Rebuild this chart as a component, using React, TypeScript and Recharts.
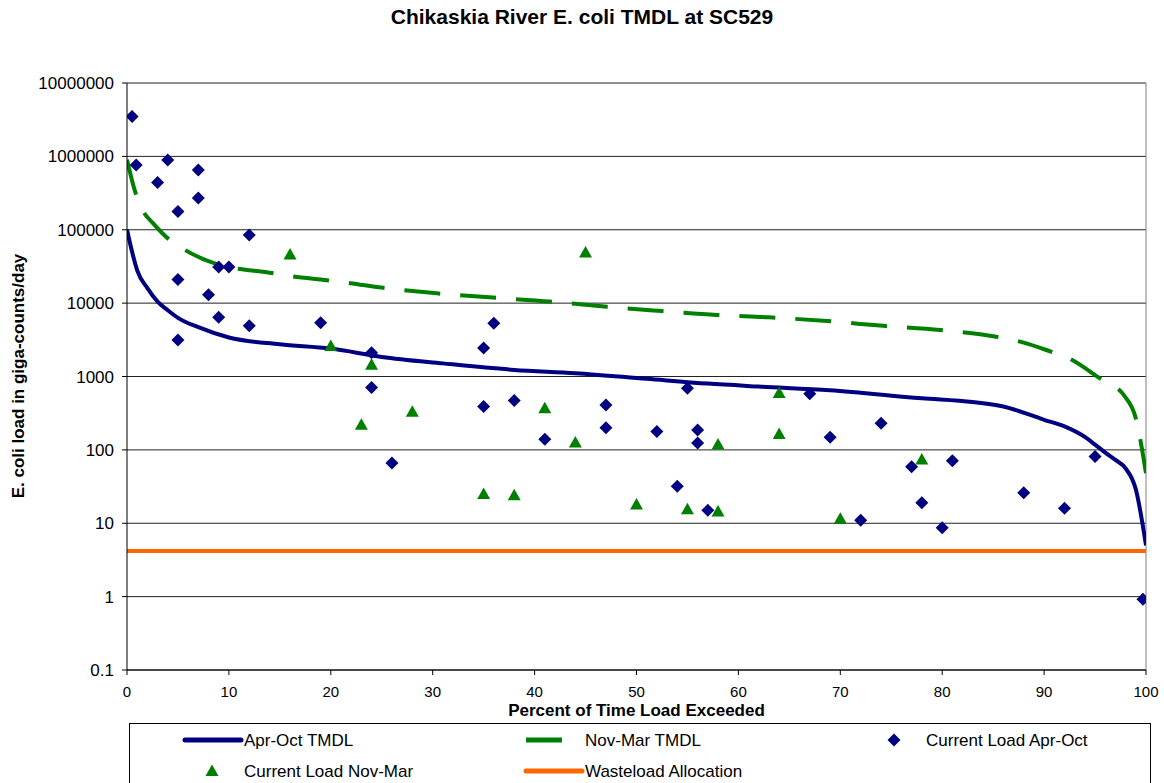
import {
  CartesianGrid,
  ComposedChart,
  Label,
  Legend,
  Line,
  ReferenceLine,
  Scatter,
  XAxis,
  YAxis,
} from "recharts"

// Apr-Oct TMDL curve (percent exceeded, load)
const tmdlAprOctPct = [0, 0.5, 1, 2, 3, 4, 5, 7, 10, 15, 20, 25, 31, 38, 44, 51, 57, 62, 69, 78, 83, 86, 90, 92, 94, 95, 96, 97, 98, 99, 100]
const tmdlAprOctLoad = [100000, 50000, 28000, 16000, 10500, 8000, 6300, 4700, 3400, 2750, 2400, 1850, 1510, 1230, 1110, 930, 800, 730, 650, 506, 450, 390, 257, 209, 150, 118, 92, 73, 56, 29, 5]

// Nov-Mar TMDL curve
const tmdlNovMarPct = [0, 0.8, 1.6, 2.5, 3.8, 5.7, 8.8, 14, 16.3, 19.6, 21.9, 25, 30.4, 35.9, 41.5, 47.1, 52.5, 57.9, 63, 68.7, 74.2, 79.8, 85.2, 88, 90.6, 92.4, 95.3, 97.9, 99, 100]
const tmdlNovMarLoad = [900000, 330000, 178000, 125000, 81000, 53000, 34000, 26000, 23000, 20500, 18700, 16300, 13600, 11900, 10500, 8900, 7800, 6900, 6400, 5700, 4900, 4300, 3500, 2900, 2200, 1780, 980, 540, 270, 48]

// Current load samples, Apr-Oct
const currentAprOctPct = [0.5, 0.9, 4, 3, 7, 7, 5, 12, 9, 10, 5, 8, 9, 12, 5, 19, 24, 24, 26, 36, 35, 35, 38, 41, 47, 47, 52, 55, 56, 56, 54, 57, 67, 69, 74, 77, 81, 78, 72, 80, 88, 92, 95, 99.7]
const currentAprOctLoad = [3500000, 760000, 890000, 440000, 650000, 270000, 178000, 85000, 31000, 31000, 21000, 13000, 6400, 4900, 3150, 5400, 2100, 710, 66, 5300, 2450, 390, 470, 140, 410, 200, 178, 690, 187, 124, 32, 15, 580, 149, 230, 59, 71, 19, 11, 8.7, 26, 16, 81, 0.92]

// Current load samples, Nov-Mar
const currentNovMarPct = [16, 20, 24, 23, 45, 28, 41, 44, 35, 38, 50, 55, 58, 58, 64, 64, 78, 70]
const currentNovMarLoad = [46000, 2600, 1450, 220, 49000, 330, 370, 126, 25, 24, 18, 15.5, 14.5, 118, 595, 165, 74, 11.5]

// Wasteload allocation
const wastePct = [0, 100]
const wasteLoad = [4.2, 4.2]

const pctTicks = [0, 10, 20, 30, 40, 50, 60, 70, 80, 90, 100]
const loadTicks = [0.1, 1, 10, 100, 1000, 10000, 100000, 1000000, 10000000]

const pairs = (xs: number[], ys: number[]) => xs.map((x, i) => ({ x, y: ys[i] }))

const aprOctTmdl = pairs(tmdlAprOctPct, tmdlAprOctLoad)
const novMarTmdl = pairs(tmdlNovMarPct, tmdlNovMarLoad)
const aprOctCurrent = pairs(currentAprOctPct, currentAprOctLoad)
const novMarCurrent = pairs(currentNovMarPct, currentNovMarLoad)
const wasteload = pairs(wastePct, wasteLoad)

const NAVY = "#000080"
const GREEN = "#008000"
const ORANGE = "#FF6600"
const FONT = "'Liberation Sans', Arial, sans-serif"

function Diamond(props: any) {
  const { cx, cy } = props
  if (cx == null || cy == null) return null
  const r = 6.5
  return <polygon points={`${cx},${cy - r} ${cx + r},${cy} ${cx},${cy + r} ${cx - r},${cy}`} fill={NAVY} />
}

function Triangle(props: any) {
  const { cx, cy } = props
  if (cx == null || cy == null) return null
  return <polygon points={`${cx},${cy - 6.5} ${cx + 6.5},${cy + 5} ${cx - 6.5},${cy + 5}`} fill={GREEN} />
}

function LegendBox() {
  const t = { fontFamily: FONT, fontSize: 17, fill: "#000", dominantBaseline: "central" as const }
  const r1 = 16
  const r2 = 47
  return (
    <svg width={1022} height={62} style={{ display: "block" }}>
      <line x1={55} y1={r1} x2={111} y2={r1} stroke={NAVY} strokeWidth={5} strokeLinecap="round" />
      <text x={114} y={r1} {...t}>Apr-Oct TMDL</text>
      <line x1={396} y1={r1} x2={432} y2={r1} stroke={GREEN} strokeWidth={5} />
      <text x={455} y={r1} {...t}>Nov-Mar TMDL</text>
      <Diamond cx={764} cy={r1} />
      <text x={796} y={r1} {...t}>Current Load Apr-Oct</text>
      <Triangle cx={82} cy={r2} />
      <text x={114} y={r2} {...t}>Current Load Nov-Mar</text>
      <line x1={396} y1={r2} x2={452} y2={r2} stroke={ORANGE} strokeWidth={5} strokeLinecap="round" />
      <text x={455} y={r2} {...t}>Wasteload Allocation</text>
    </svg>
  )
}

export default function App() {
  return (
    <div style={{ position: "absolute", left: 0, top: 0, width: 1164, height: 783, background: "#fff", fontFamily: FONT }}>
      <div
        style={{
          position: "absolute",
          left: 0,
          top: 0,
          width: 1164,
          height: 34,
          lineHeight: "34px",
          textAlign: "center",
          fontSize: 21,
          fontWeight: "bold",
          zIndex: 2,
        }}
      >
        Chikaskia River E. coli TMDL at SC529
      </div>
      <ComposedChart width={1164} height={783} margin={{ top: 83, right: 18, bottom: 83, left: 0 }}>
        <CartesianGrid vertical={false} stroke="#222" strokeWidth={1} />
        <XAxis
          type="number"
          dataKey="x"
          domain={[0, 100]}
          ticks={pctTicks}
          allowDataOverflow
          height={30}
          tickSize={5}
          tickMargin={11}
          axisLine={{ stroke: "#000" }}
          tickLine={{ stroke: "#000" }}
          tick={{ fill: "#000", fontSize: 15, fontFamily: FONT }}
        >
          <Label
            value="Percent of Time Load Exceeded"
            position="bottom"
            offset={4}
            style={{ fill: "#000", fontSize: 17, fontWeight: "bold", fontFamily: FONT }}
          />
        </XAxis>
        <YAxis
          type="number"
          scale="log"
          domain={[0.1, 10000000]}
          ticks={loadTicks}
          allowDataOverflow
          width={127}
          tickSize={5}
          tickMargin={8}
          tickFormatter={(v: number) => String(v)}
          axisLine={{ stroke: "#000" }}
          tickLine={{ stroke: "#000" }}
          tick={{ fill: "#000", fontSize: 17, fontFamily: FONT }}
        >
          <Label
            content={() => (
              <text
                x={18}
                y={376}
                transform="rotate(-90 18 376)"
                textAnchor="middle"
                dominantBaseline="central"
                style={{ fill: "#000", fontSize: 17, fontWeight: "bold", fontFamily: FONT }}
              >
                E. coli load in giga-counts/day
              </text>
            )}
          />
        </YAxis>
        <ReferenceLine x={100} stroke="#808080" strokeWidth={1} />
        <Line
          data={novMarTmdl}
          dataKey="y"
          name="Nov-Mar TMDL"
          type="monotone"
          stroke={GREEN}
          strokeWidth={4}
          strokeDasharray="36 20"
          dot={false}
          activeDot={false}
          isAnimationActive={false}
        />
        <Line
          data={aprOctTmdl}
          dataKey="y"
          name="Apr-Oct TMDL"
          type="monotone"
          stroke={NAVY}
          strokeWidth={4}
          dot={false}
          activeDot={false}
          isAnimationActive={false}
        />
        <Scatter data={aprOctCurrent} dataKey="y" name="Current Load Apr-Oct" shape={<Diamond />} isAnimationActive={false} />
        <Scatter data={novMarCurrent} dataKey="y" name="Current Load Nov-Mar" shape={<Triangle />} isAnimationActive={false} />
        <Line
          data={wasteload}
          dataKey="y"
          name="Wasteload Allocation"
          type="linear"
          stroke={ORANGE}
          strokeWidth={4}
          dot={false}
          activeDot={false}
          isAnimationActive={false}
        />
        <Legend
          layout="horizontal"
          verticalAlign="middle"
          align="center"
          content={() => <LegendBox />}
          wrapperStyle={{
            position: "absolute",
            left: 129,
            top: 723,
            width: 1022,
            height: 62,
            border: "1px solid #000",
            background: "#fff",
            boxSizing: "border-box",
          }}
        />
      </ComposedChart>
    </div>
  )
}
